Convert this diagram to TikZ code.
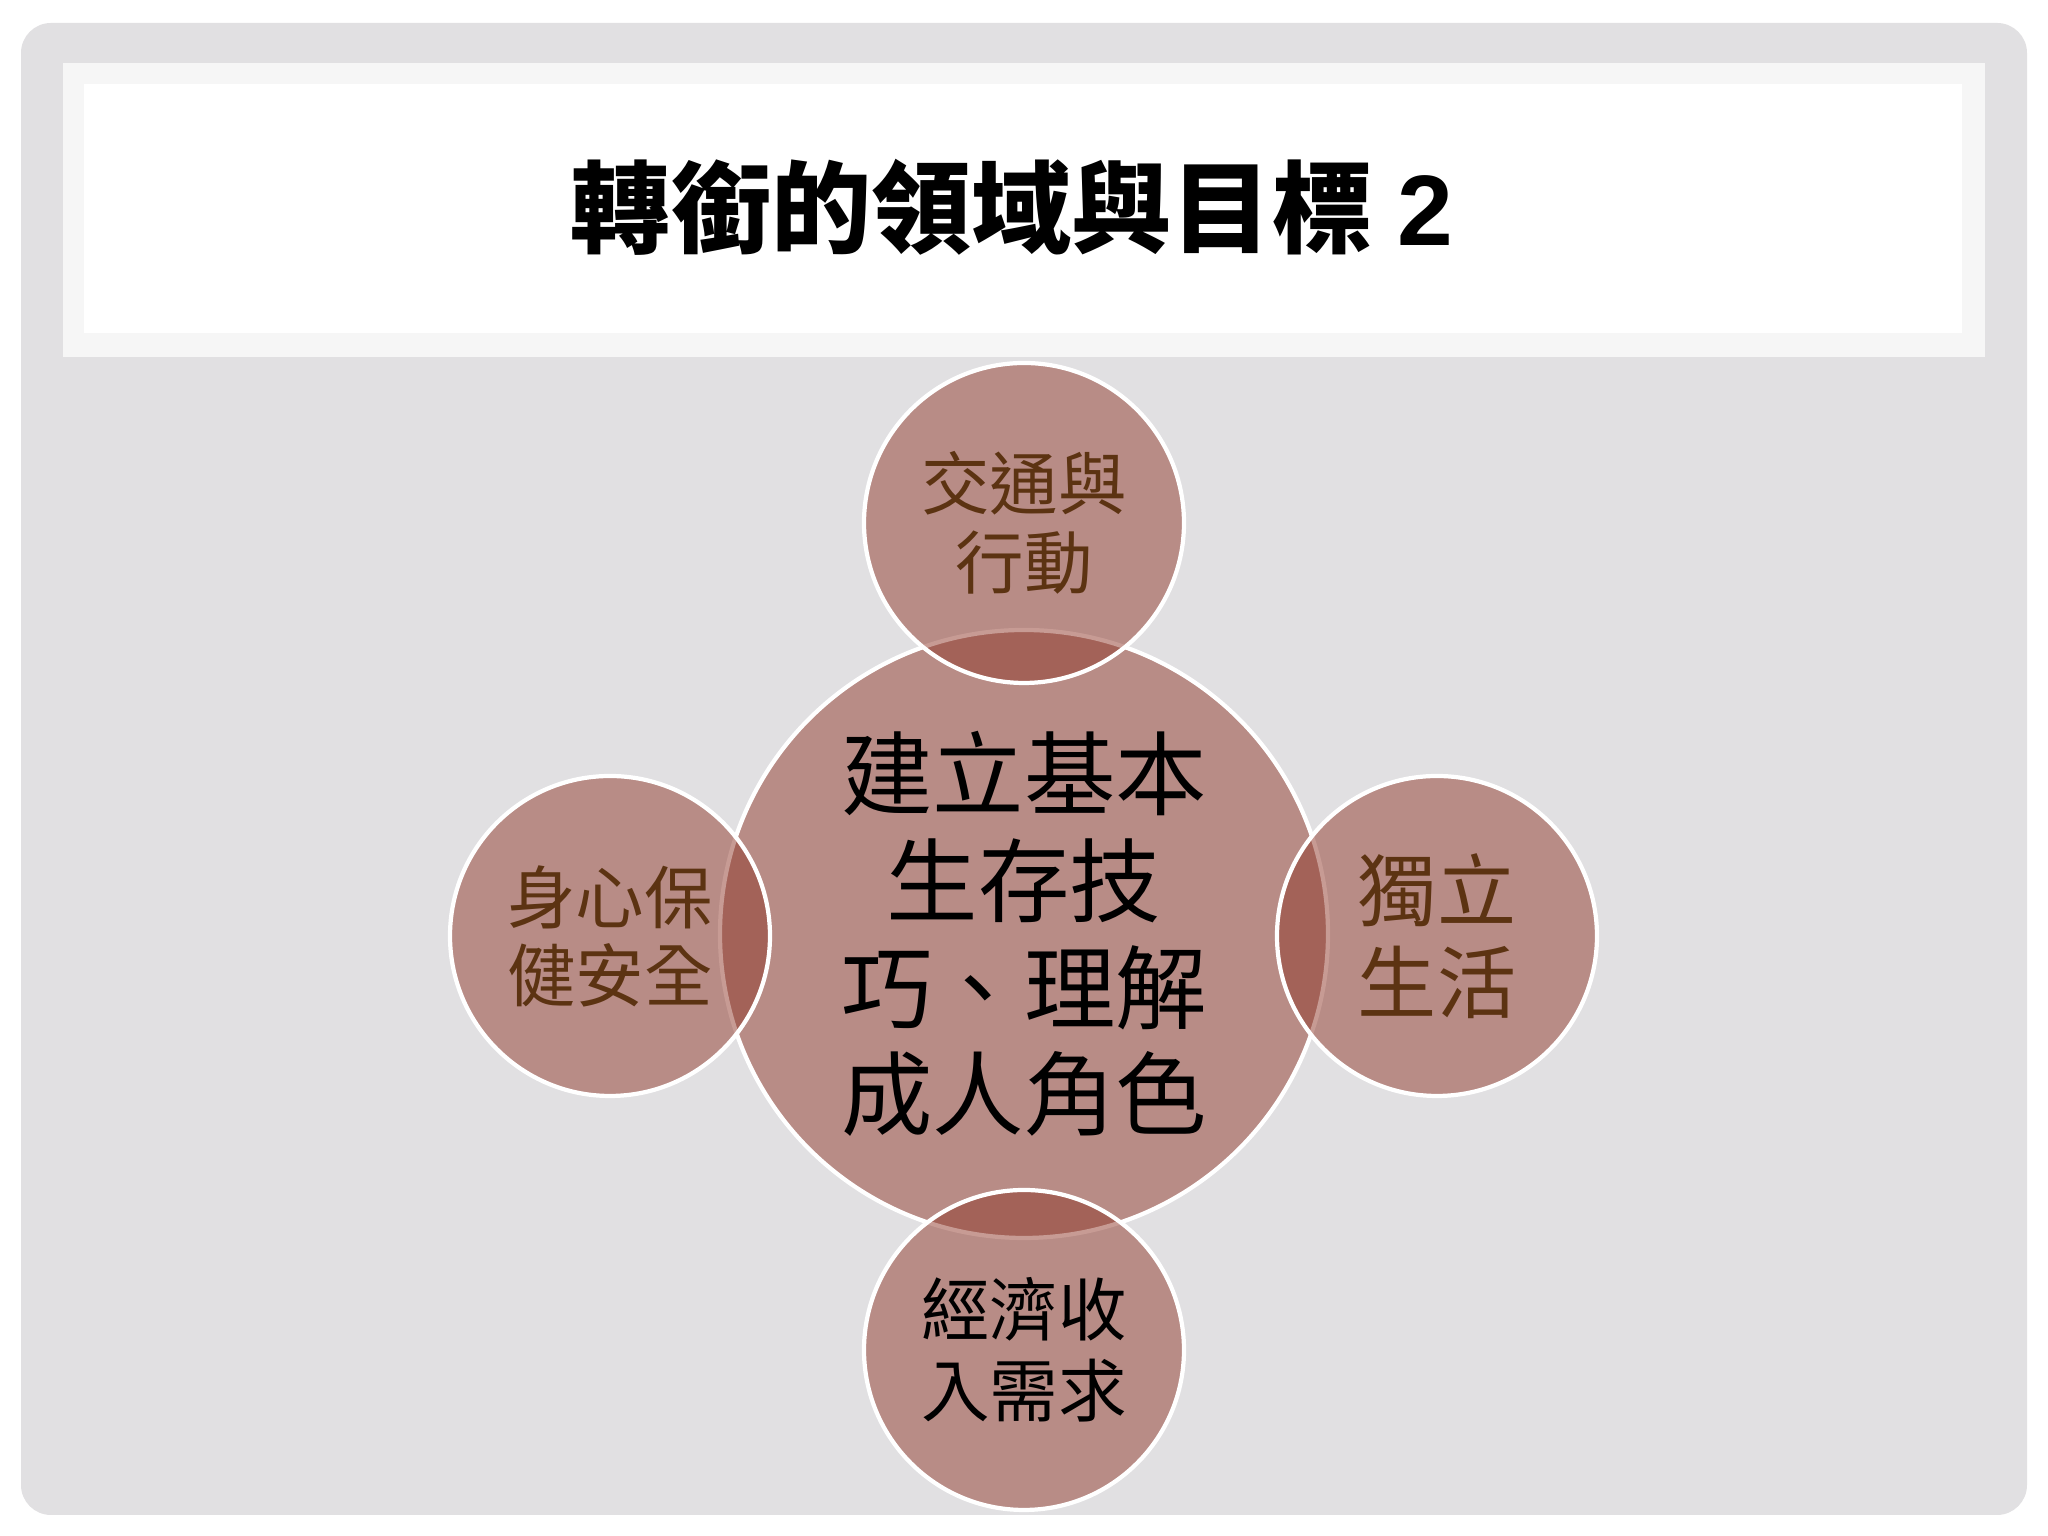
\documentclass[tikz,border=0pt]{standalone}
\usepackage{fontspec}
\setmainfont{Liberation Serif}
\newfontfamily\cjk{Noto Sans CJK TC}
\newfontfamily\headsans{Liberation Sans}
\definecolor{slidegray}{RGB}{225,224,226}
\definecolor{bandgray}{RGB}{246,246,246}
\definecolor{rose}{RGB}{144,57,43}
\definecolor{bark}{RGB}{92,51,18}

\begin{document}
\begin{tikzpicture}[
		bub/.style 2 args={
			circle,
			draw=white,
			line width=1.2pt,
			fill=rose,
			fill opacity=0.5,
			text opacity=1,
			inner sep=0pt,
			minimum size=#1,
			text=#2,
			align=center}
		]
		\useasboundingbox (0,0) rectangle (20.48,15.36);
		\fill[white] (0,0) rectangle (20.48,15.36);
		\fill[slidegray, rounded corners=0.3cm] (0.21,0.21) rectangle (20.27,15.13);
		\fill[bandgray] (0.63,11.79) rectangle (19.85,14.73);
		\fill[white] (0.84,12.03) rectangle (19.62,14.52);
		\node[font=\fontsize{28.5}{34}\selectfont\bfseries] (title) at (10.12,13.29) {{\cjk 轉銜的領域與目標} {\headsans 2}};
		\node [bub={6.08cm}{black}, font=\cjk\fontsize{26}{30.4}\selectfont] (core) at (10.24,6.02) {建立基本\\生存技\\巧、理解\\成人角色};
		\node [bub={3.2cm}{bark}, font=\cjk\fontsize{19.5}{22.5}\selectfont] (move) at (10.24,10.13) {交通與\\行動};
		\node [bub={3.2cm}{bark}, font=\cjk\fontsize{19.5}{22.2}\selectfont] (safe) at (6.10,6.00) {身心保\\健安全};
		\node [bub={3.2cm}{bark}, font=\cjk\fontsize{22.5}{26.2}\selectfont] (life) at (14.37,6.00) {獨立\\生活};
		\node [bub={3.2cm}{black}, font=\cjk\fontsize{19.5}{23}\selectfont] (money) at (10.24,1.86) {經濟收\\入需求};
		\end{tikzpicture}
\end{document}
